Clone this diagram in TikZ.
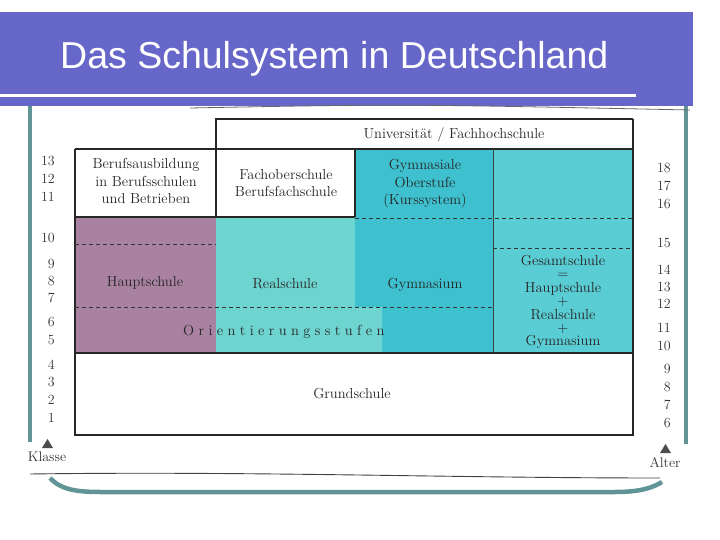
\documentclass[tikz,border=0pt]{standalone}
\usepackage{fontspec}
\newfontfamily\titlefont{Liberation Sans}
\definecolor{bandc}{RGB}{103,103,202}
\definecolor{framec}{RGB}{96,148,150}
\definecolor{mauve}{RGB}{168,130,160}
\definecolor{tealA}{RGB}{110,212,208}
\definecolor{tealB}{RGB}{62,192,206}
\definecolor{tealC}{RGB}{90,205,212}
\newcommand{\lsp}{\kern4.4pt}
\begin{document}
\begin{tikzpicture}[x=1pt,y=-1pt,
  lbl/.style={align=center, inner sep=0pt, font=\fontsize{14.5}{17.5}\selectfont, text=black!85},
  num/.style={inner sep=0pt, font=\fontsize{14}{17}\selectfont, text=black!80},
  gridline/.style={line width=1.1pt, draw=black!85},
  dline/.style={line width=0.8pt, dash pattern=on 4pt off 3pt, draw=black!80},
  frameline/.style={line width=4.5pt, draw=framec},
  tri/.style={fill=black!70}]
\useasboundingbox (0,0) rectangle (720,540);
% header band
\fill[bandc] (0,12) rectangle (693,106);
\fill[white] (0,94) rectangle (636,97.5);
\node[anchor=base west, text=white, inner sep=0pt, font=\titlefont\fontsize{37.5}{40}\selectfont] (title) at (60,69) {Das Schulsystem in Deutschland};
% panel frame
\draw[frameline] (30,106) -- (30,442);
\draw[frameline] (686,106) -- (686,444);
\draw[frameline] (50,478) .. controls (60,489) and (75,492) .. (100,492) -- (615,492) .. controls (640,492) and (652,488) .. (662,482);
% scan edges
\draw[black!75, line width=0.9pt] (30,474) .. controls (250,471) and (450,478) .. (660,478);
\draw[black!60, line width=0.8pt] (190,108) .. controls (400,104) .. (690,110);
% colored areas
\fill[mauve] (75,217) rectangle (216,353);
\fill[tealA] (216,217) rectangle (355,353);
\fill[tealB] (355,149) rectangle (493,353);
\fill[tealA] (355,307) rectangle (382,353);
\fill[tealC] (493,149) rectangle (633,353);
% grid
\draw[gridline] (216,149) -- (216,119) -- (633,119);
\draw[gridline] (75,149) -- (633,149);
\draw[gridline] (633,119) -- (633,435) -- (75,435) -- (75,149);
\draw[gridline] (216,149) -- (216,217);
\draw[gridline] (355,149) -- (355,217);
\draw[gridline] (75,217) -- (355,217);
\draw[gridline] (75,353) -- (633,353);
\draw[line width=0.7pt, black!75] (493,149) -- (493,353);
\draw[dline] (355,218) -- (633,218);
\draw[dline] (493,248) -- (633,248);
\draw[dline] (75,244) -- (216,244);
\draw[dline] (75,307) -- (493,307);
% labels
\node[lbl] (uni) at (454,135) {Universität / Fachhochschule};
\node[lbl] (beruf) at (146,181) {Berufsausbildung\\in Berufsschulen\\und Betrieben};
\node[lbl] (fach) at (286,183) {Fachoberschule\\Berufsfachschule};
\node[lbl] (gymo) at (425,184) {Gymnasiale\\Oberstufe\\(Kurssystem)};
\node[lbl] (haupt) at (145,283) {Hauptschule};
\node[lbl] (real) at (285,284) {Realschule};
\node[lbl] (gym) at (425,285) {Gymnasium};
\node[lbl, font=\fontsize{14.5}{13.4}\selectfont] (gesamt) at (563,302) {Gesamtschule\\=\\Hauptschule\\+\\Realschule\\+\\Gymnasium};
\node[lbl, anchor=west] (orient) at (183,332) {O\lsp r\lsp i\lsp e\lsp n\lsp t\lsp i\lsp e\lsp r\lsp u\lsp n\lsp g\lsp s\lsp s\lsp t\lsp u\lsp f\lsp e\lsp n};
\node[lbl] (grund) at (352,394) {Grundschule};
% class numbers
\foreach \n/\y in {13/161,12/179,11/197,10/238,9/264,8/281,7/298,6/322,5/340,4/365,3/382,2/400,1/418}
  \node[num, anchor=east] (k\n) at (55,\y) {\n};
\fill[tri] (42,448) -- (47.5,439) -- (53,448) -- cycle;
\node[num] (klasse) at (47,457) {Klasse};
% ages
\foreach \n/\y in {18/168,17/186,16/204,15/243,14/270,13/287,12/304,11/328,10/346,9/369,8/387,7/405,6/423}
  \node[num, anchor=east] (a\n) at (671,\y) {\n};
\fill[tri] (660,453) -- (665.5,444) -- (671,453) -- cycle;
\node[num] (alter) at (665,463) {Alter};
\end{tikzpicture}
\end{document}
